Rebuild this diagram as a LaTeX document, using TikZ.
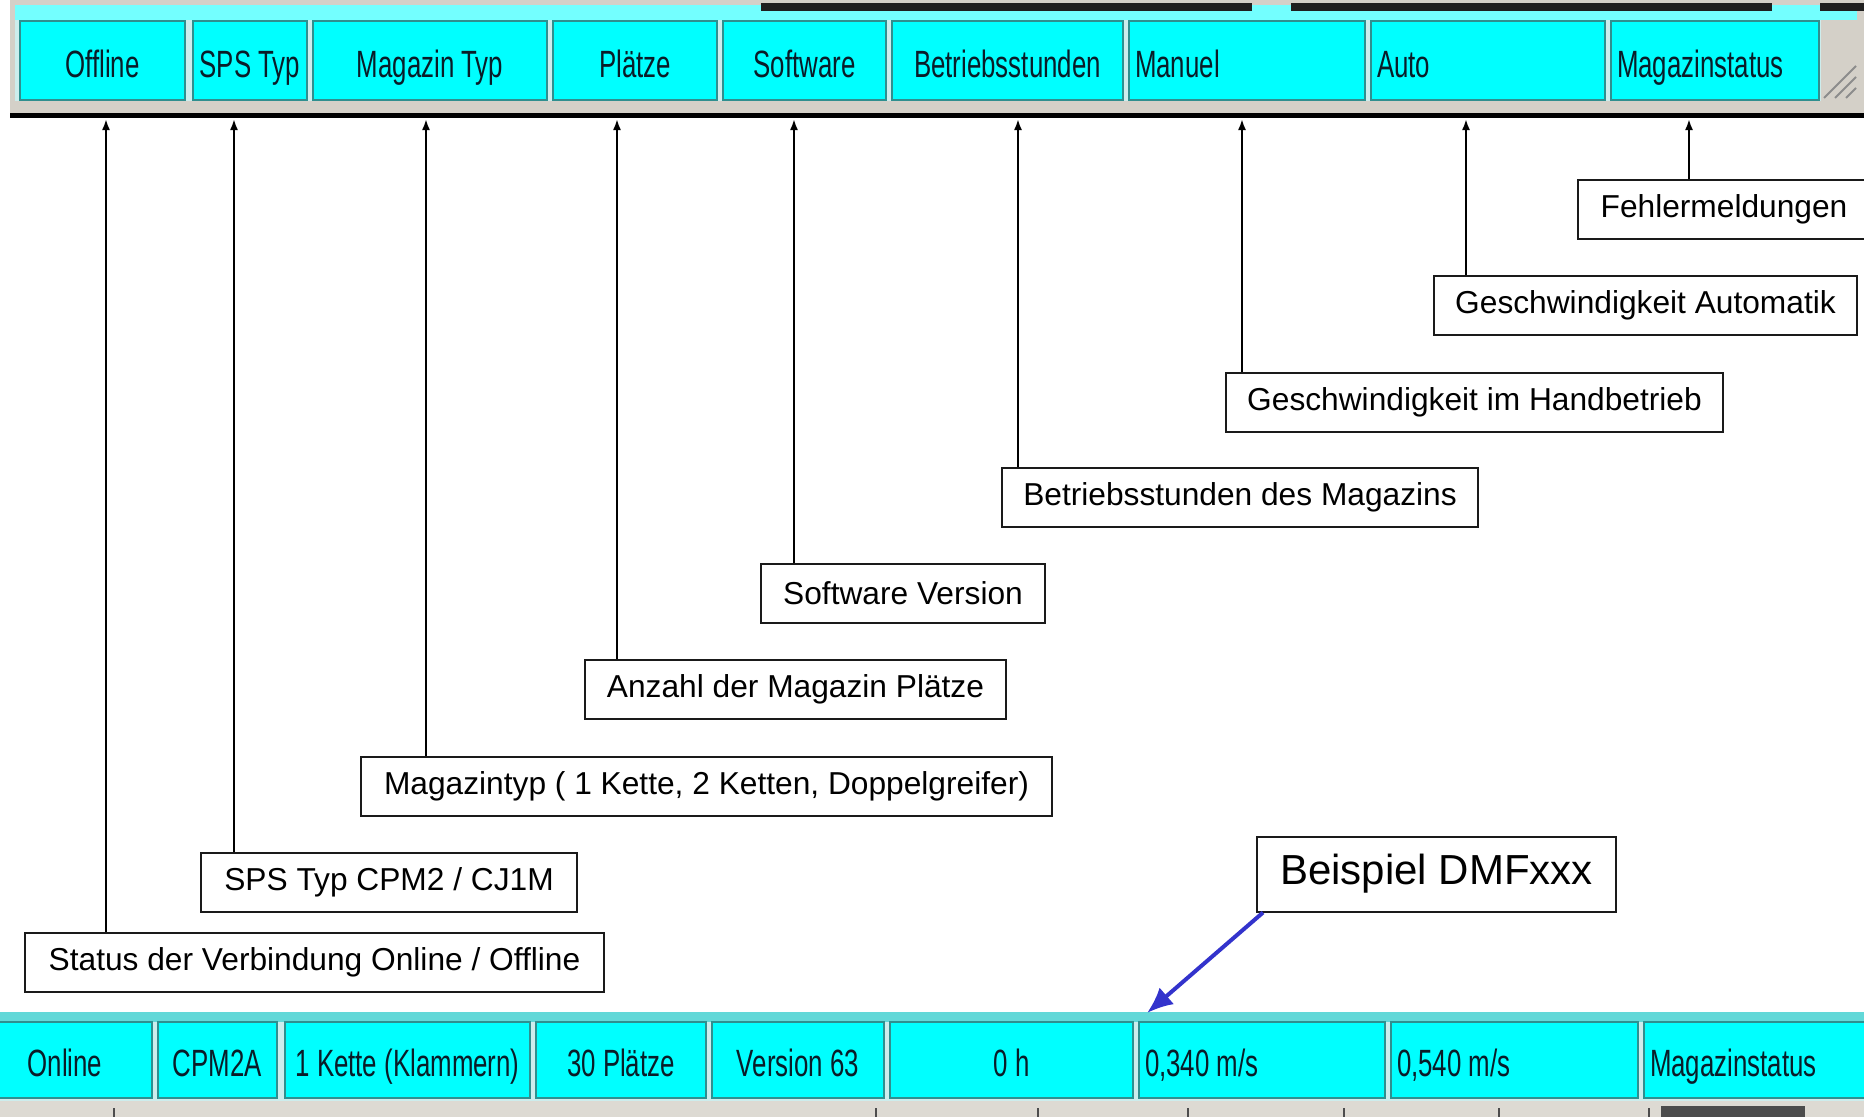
\documentclass[tikz,border=0pt]{standalone}
\usepackage{fontspec}
\setmainfont{Liberation Sans}
\newfontfamily\barfont[FakeStretch=0.68]{Liberation Sans}
\usetikzlibrary{arrows.meta}
\definecolor{barcyan}{HTML}{00FFFF}
\definecolor{bargray}{HTML}{D4D0C8}
\definecolor{celledge}{HTML}{2F8F8F}
\definecolor{cellgap}{HTML}{CDEDED}
\definecolor{bandcyan}{HTML}{62D8D8}
\definecolor{bartext}{HTML}{0A1C28}
\definecolor{boxline}{HTML}{1A1A1A}
\definecolor{arrowblue}{HTML}{3333CC}
\tikzset{
	bar cell/.style={fill=barcyan, draw=celledge, line width=1.5pt, minimum height=79pt, inner sep=0pt, text height=33pt, text depth=0pt, text=bartext, font=\barfont\fontsize{38}{42}\selectfont},
	left cell/.style={bar cell, align=flush left, inner xsep=6pt},
	label box/.style={draw=boxline, line width=2pt, minimum height=59pt, inner sep=0pt, font=\fontsize{31.7}{38}\selectfont},
	pointer/.style={line width=2pt, -{Latex[length=11pt,width=8pt]}}
}

\begin{document}
\begin{tikzpicture}[x=1pt, y=-1pt]
	\useasboundingbox (0,0) rectangle (1864,1117);

	\fill[bargray] (10,0) rectangle (1864,113);
	\fill[barcyan!55!white] (15,5) rectangle (1857,20);
	\fill[cellgap] (15,20) rectangle (1821,101);
	\fill[black!88] (761,3) rectangle (1252,11);
	\fill[black!88] (1291,3) rectangle (1772,11);
	\fill[black!88] (1820,3) rectangle (1864,11);
	\fill[black] (10,113) rectangle (1864,118);
	\foreach \d in {0,11,22}
		\draw[black!45, line width=2pt] (1856,66+\d) -- (1824+\d,98);

	\node[bar cell, minimum width=165pt] at (102.5,60.5) (cell-offline) {Offline};
	\node[bar cell, minimum width=114pt] at (250,60.5) (cell-sps) {SPS Typ};
	\node[bar cell, minimum width=234pt] at (430,60.5) (cell-magtyp) {Magazin Typ};
	\node[bar cell, minimum width=164pt] at (635,60.5) (cell-plaetze) {Plätze};
	\node[bar cell, minimum width=163pt] at (804.5,60.5) (cell-software) {Software};
	\node[bar cell, minimum width=231pt] at (1007.5,60.5) (cell-hours) {Betriebsstunden};
	\node[left cell, text width=224pt] at (1247,60.5) (cell-manual) {Manuel};
	\node[left cell, text width=222pt] at (1488,60.5) (cell-auto) {Auto};
	\node[left cell, text width=196pt] at (1715,60.5) (cell-status) {Magazinstatus};

	\node[label box, minimum width=292pt] at (1724,209.5) (error-box) {Fehlermeldungen};
	\node[label box, minimum width=423pt] at (1645.5,305.5) (auto-box) {Geschwindigkeit Automatik};
	\node[label box, minimum width=497pt] at (1474.5,402) (manual-box) {Geschwindigkeit im Handbetrieb};
	\node[label box, minimum width=476pt] at (1240,497) (hours-box) {Betriebsstunden des Magazins};
	\node[label box, minimum width=284pt] at (903,593) (software-box) {Software Version};
	\node[label box, minimum width=421pt] at (795.5,689.5) (plaetze-box) {Anzahl der Magazin Plätze};
	\node[label box, minimum width=691pt] at (706.5,786) (magtyp-box) {Magazintyp ( 1 Kette, 2 Ketten, Doppelgreifer)};
	\node[label box, minimum width=376pt] at (389,882) (sps-box) {SPS Typ CPM2 / CJ1M};
	\node[label box, minimum width=579pt] at (314.5,962) (status-box) {Status der Verbindung Online / Offline};
	\node[label box, minimum width=359pt, minimum height=75pt, font=\fontsize{42}{50}\selectfont] at (1436.5,874) (example-box) {Beispiel DMFxxx};

	\coordinate (tip-offline) at (106,119);
	\coordinate (tip-sps) at (234,119);
	\coordinate (tip-magtyp) at (426,119);
	\coordinate (tip-plaetze) at (617,119);
	\coordinate (tip-software) at (794,119);
	\coordinate (tip-hours) at (1018,119);
	\coordinate (tip-manual) at (1242,119);
	\coordinate (tip-auto) at (1466,119);
	\coordinate (tip-status) at (1689,119);

	\draw[pointer] (status-box.north -| tip-offline) -- (tip-offline);
	\draw[pointer] (sps-box.north -| tip-sps) -- (tip-sps);
	\draw[pointer] (magtyp-box.north -| tip-magtyp) -- (tip-magtyp);
	\draw[pointer] (plaetze-box.north -| tip-plaetze) -- (tip-plaetze);
	\draw[pointer] (software-box.north -| tip-software) -- (tip-software);
	\draw[pointer] (hours-box.north -| tip-hours) -- (tip-hours);
	\draw[pointer] (manual-box.north -| tip-manual) -- (tip-manual);
	\draw[pointer] (auto-box.north -| tip-auto) -- (tip-auto);
	\draw[pointer] (error-box.north -| tip-status) -- (tip-status);

	\fill[bandcyan] (0,1012) rectangle (1864,1022);
	\fill[cellgap] (0,1022) rectangle (1864,1101);
	\fill[bargray!80!white] (0,1101) rectangle (1864,1117);
	\foreach \x in {114,876,1038,1188,1344,1499,1649}
		\draw[black!70, line width=1.5pt] (\x,1108) -- (\x,1117);
	\fill[black!70] (1661,1106) rectangle (1805,1117);

	\node[bar cell, minimum height=76pt, minimum width=174pt] at (65,1060) (val-online) {Online};
	\node[bar cell, minimum height=76pt, minimum width=119pt] at (217.5,1060) (val-cpm) {CPM2A};
	\node[bar cell, minimum height=76pt, minimum width=245pt] at (407.5,1060) (val-kette) {1 Kette (Klammern)};
	\node[bar cell, minimum height=76pt, minimum width=170pt] at (621,1060) (val-plaetze) {30 Plätze};
	\node[bar cell, minimum height=76pt, minimum width=172pt] at (798,1060) (val-version) {Version 63};
	\node[bar cell, minimum height=76pt, minimum width=243pt] at (1011.5,1060) (val-hours) {0 h};
	\node[left cell, minimum height=76pt, text width=234pt] at (1262,1060) (val-manual) {0,340 m/s};
	\node[left cell, minimum height=76pt, text width=235pt] at (1514.5,1060) (val-auto) {0,540 m/s};
	\node[left cell, minimum height=76pt, text width=224pt] at (1762,1060) (val-status) {Magazinstatus};

	\coordinate (example-tip) at (1147,1013);
	\draw[line width=4pt, draw=arrowblue, -{Latex[length=26pt,width=22pt]}] ([xshift=7pt]example-box.south west) -- (example-tip);
\end{tikzpicture}
\end{document}
